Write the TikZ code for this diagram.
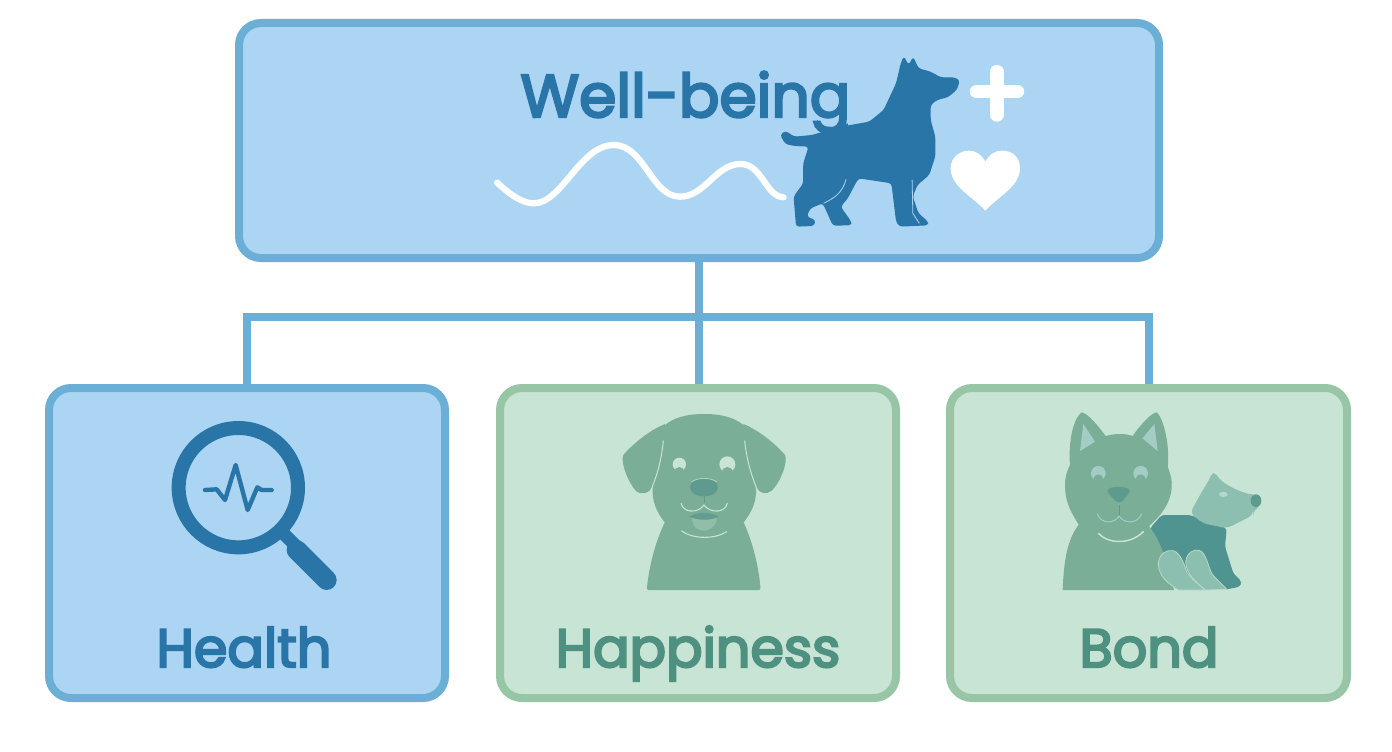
\documentclass[tikz,border=0pt]{standalone}
\usepackage{fontspec}
\setmainfont{Poppins}
\newfontfamily\labfont[RawFeature={embolden=4}]{Poppins}
\definecolor{bluefill}{HTML}{ABD5F2}
\definecolor{bluestroke}{HTML}{6BAED6}
\definecolor{bluedark}{HTML}{2A75A8}
\definecolor{greenfill}{HTML}{C8E4D5}
\definecolor{greenstroke}{HTML}{97C5A5}
\definecolor{greentext}{HTML}{4F9180}
\definecolor{sage}{HTML}{7AAE96}
\definecolor{sagedark}{HTML}{5E9A8E}
\definecolor{teal}{HTML}{4F9490}
\definecolor{mint}{HTML}{8DBFB0}
\definecolor{earin}{HTML}{A3CDC4}
\tikzset{
  bluebox/.style={draw=bluestroke,fill=bluefill,line width=8pt,rounded corners=22pt,inner sep=0pt},
  greenbox/.style={draw=greenstroke,fill=greenfill,line width=8pt,rounded corners=22pt,inner sep=0pt},
  conn/.style={draw=bluestroke,line width=8pt},
  bigtext/.style={font=\fontsize{60}{60}\selectfont\labfont,text=bluedark,inner sep=0pt,anchor=base},
  lbl/.style={font=\fontsize{54}{54}\selectfont\labfont,inner sep=0pt,anchor=base},
  softline/.style={line cap=round,line join=round},
}
\begin{document}
\begin{tikzpicture}[x=1pt,y=-1pt]
\useasboundingbox (0,0) rectangle (1392,752);
\fill[white] (0,0) rectangle (1392,752);
\coordinate (bus) at (699,317);
\node[bluebox,minimum width=920pt,minimum height=235pt] (top) at (699,140.5) {};
\node[bluebox,minimum width=396pt,minimum height=310pt] (health) at (247,543) {};
\node[greenbox,minimum width=396pt,minimum height=310pt] (happy) at (698,543) {};
\node[greenbox,minimum width=397pt,minimum height=310pt] (bond) at (1148.5,543) {};
\draw[conn] (top.south) -- (top.south |- happy.north);
\draw[conn] (health.north) |- (bus) -| (bond.north);
\node[bigtext] (wb) at (685.5,117) {Well-being};
\node[lbl,text=bluedark] (th) at (244,667) {Health};
\node[lbl,text=greentext] (tp) at (698,667) {Happiness};
\node[lbl,text=greentext] (tb) at (1149,667) {Bond};

% --- top icon
\begin{scope}[shift={(480,40)},xscale=1/2.8,yscale=1/3]
\fill[bluedark,rounded corners=3pt]
 (1178,70) -- (1187,48) -- (1200,75) -- (1213,50) -- (1228,85) -- (1262,95) -- (1290,112) -- (1330,112) -- (1344,122) -- (1335,150) -- (1310,172) -- (1280,180) -- (1262,195) -- (1262,240) -- (1275,290) -- (1275,350) -- (1258,405) -- (1225,435) -- (1212,470) -- (1228,520) -- (1255,545) -- (1255,556) -- (1175,560) -- (1165,545) -- (1152,430) -- (1060,415) -- (1052,430) -- (1030,475) -- (1010,500) -- (1040,545) -- (1040,556) -- (988,557) -- (960,490) -- (925,505) -- (915,530) -- (940,540) -- (935,558) -- (885,560) -- (878,470) -- (905,430) -- (905,370) -- (920,320) -- (880,318) -- (855,312) -- (840,285) -- (855,272) -- (880,290) -- (930,285) -- (1000,262) -- (1090,245) -- (1130,210) -- (1165,130) -- cycle;
\fill[bluedark] (945,240) .. controls (950,262) and (990,268) .. (1030,250) -- (1030,262) .. controls (990,275) and (945,272) .. (942,245) -- cycle;
\draw[bluefill,line width=.8pt] (1025,418) .. controls (1015,460) and (990,475) .. (962,490);
\draw[bluefill,line width=.8pt] (1210,420) -- (1212,520) -- (1230,550);
\draw[white,line width=6.3pt,line cap=round] (48,428) .. controls (85,465) and (120,490) .. (150,490) .. controls (230,490) and (280,315) .. (375,315) .. controls (460,315) and (480,470) .. (560,470) .. controls (630,470) and (660,372) .. (730,372) .. controls (790,372) and (800,470) .. (850,472);
\fill[white] (1415,512) .. controls (1380,470) and (1318,440) .. (1318,385) .. controls (1318,350) and (1345,332) .. (1370,332) .. controls (1390,332) and (1405,345) .. (1415,365) .. controls (1425,345) and (1440,332) .. (1462,332) .. controls (1490,332) and (1512,350) .. (1512,385) .. controls (1512,440) and (1450,470) .. (1415,512) -- cycle;
\draw[white,line width=13.5pt,line cap=round] (1447,95) -- (1447,225);
\draw[white,line width=13.5pt,line cap=round] (1390,155) -- (1505,155);
\end{scope}

% --- magnifier
\begin{scope}[shift={(150,400)},scale=1/3]
\draw[bluedark,line width=14pt] (265,263) circle (179);
\draw[bluedark,line width=13pt] (395,395) -- (435,435);
\draw[bluedark,line width=20pt,line cap=round] (440,450) -- (530,540);
\draw[bluedark,line width=4.4pt,softline] (165,270) -- (200,268) -- (225,300) -- (257,195) -- (293,330) -- (322,262) -- (335,270) -- (365,270);
\end{scope}

% --- happy dog
\begin{scope}[shift={(600,400)},scale=1/3]
\fill[sage,rounded corners=2pt] (140,570) .. controls (150,480) and (170,420) .. (195,365) -- (430,365) .. controls (455,420) and (475,490) .. (482,570) -- cycle;
\fill[sage] (195,72) .. controls (150,90) and (100,130) .. (70,165) .. controls (60,185) and (85,250) .. (110,275) .. controls (125,285) and (145,280) .. (155,265) -- (195,130) -- cycle;
\fill[sage] (430,72) .. controls (475,90) and (525,130) .. (555,165) .. controls (565,185) and (540,250) .. (515,272) .. controls (500,285) and (480,280) .. (470,265) -- (430,130) -- cycle;
\fill[sage] (312,42) .. controls (370,42) and (410,55) .. (435,80) .. controls (455,130) and (470,200) .. (468,280) .. controls (466,320) and (445,350) .. (425,375) -- (200,375) .. controls (180,350) and (160,320) .. (158,280) .. controls (156,200) and (170,130) .. (190,80) .. controls (215,55) and (255,42) .. (312,42) -- cycle;
\draw[greenfill,line width=1pt] (190,122) .. controls (185,180) and (170,230) .. (152,272);
\draw[greenfill,line width=1pt] (434,122) .. controls (440,180) and (455,230) .. (473,272);
\fill[greenfill] (238,193) circle (20);
\fill[greenfill] (382,193) circle (24);
\fill[sage] (238,216) circle (15);
\fill[sage] (382,218) circle (17);
\fill[sagedark] (312,262) ellipse (42 and 27);
\draw[greenfill!70!sage,line width=.8pt] (275,245) .. controls (295,232) and (330,232) .. (350,245);
\draw[sagedark,line width=1pt] (312,285) -- (312,310);
\draw[greenfill,line width=1.1pt,softline] (243,310) .. controls (250,340) and (295,340) .. (312,315) .. controls (330,340) and (375,340) .. (382,310);
\fill[sagedark!85!sage] (268,350) .. controls (290,335) and (335,335) .. (356,350) .. controls (335,362) and (290,362) .. (268,350) -- cycle;
\fill[sage!70!greenfill] (274,353) .. controls (300,362) and (325,362) .. (352,353) .. controls (345,385) and (325,392) .. (312,392) .. controls (295,392) and (280,385) .. (274,353) -- cycle;
\draw[greenfill,line width=1.1pt,softline] (245,393) .. controls (280,418) and (345,418) .. (380,395);
\end{scope}

% --- bond dogs
\begin{scope}[shift={(1040,400)},scale=1/3]
\fill[teal,rounded corners=3pt] (330,385) -- (365,345) -- (450,345) -- (560,385) -- (555,440) -- (580,520) -- (605,545) -- (600,560) -- (560,568) -- (405,568) -- cycle;
\fill[mint,rounded corners=5pt] (450,340) -- (480,285) -- (507,240) -- (520,212) -- (545,245) -- (590,270) -- (635,285) -- (650,282) -- (664,300) -- (660,320) -- (640,330) -- (640,345) -- (600,365) -- (560,385) -- (490,370) -- cycle;
\fill[sagedark] (648,302) ellipse (16 and 19);
\fill[earin!80!white] (550,283) ellipse (13 and 8);
\fill[sage] (68,570) .. controls (72,470) and (85,410) .. (120,370) -- (320,370) .. controls (365,420) and (385,500) .. (402,570) -- cycle;
\fill[sage] (75,255) .. controls (75,225) and (85,205) .. (90,195) .. controls (85,140) and (95,60) .. (125,37) .. controls (145,40) and (180,85) .. (197,108) .. controls (225,100) and (255,100) .. (278,108) .. controls (300,75) and (335,38) .. (350,37) .. controls (375,60) and (390,150) .. (383,200) .. controls (392,225) and (397,240) .. (395,262) .. controls (393,310) and (360,350) .. (325,380) -- (120,380) .. controls (95,340) and (75,310) .. (75,255) -- cycle;
\fill[earin] (120,153) -- (130,72) -- (165,125) -- cycle;
\fill[earin] (353,153) -- (343,72) -- (307,115) -- cycle;
\fill[earin] (175,220) circle (22);
\fill[earin] (302,220) circle (22);
\fill[sage] (175,238) circle (15);
\fill[sage] (302,238) circle (15);
\fill[sagedark,rounded corners=6pt] (195,268) -- (235,258) -- (277,268) -- (237,315) -- cycle;
\draw[sagedark,line width=.8pt] (237,315) -- (237,345);
\draw[earin,line width=1pt,softline] (172,342) .. controls (185,375) and (225,370) .. (237,348) .. controls (250,370) and (290,375) .. (305,342);
\draw[greenfill,line width=1.5pt,softline] (175,400) .. controls (205,432) and (270,435) .. (310,395);
\fill[mint,draw=greenfill!80!sage,line width=.8pt] (355,490) .. controls (358,460) and (380,448) .. (400,452) .. controls (420,458) and (432,490) .. (440,515) .. controls (455,540) and (480,555) .. (495,570) -- (415,570) .. controls (385,550) and (355,530) .. (355,490) -- cycle;
\fill[mint,draw=greenfill!80!sage,line width=.8pt] (437,485) .. controls (440,458) and (462,445) .. (480,452) .. controls (498,460) and (505,500) .. (515,520) .. controls (530,540) and (550,555) .. (560,568) -- (497,570) .. controls (470,550) and (437,520) .. (437,485) -- cycle;
\end{scope}
\end{tikzpicture}
\end{document}
